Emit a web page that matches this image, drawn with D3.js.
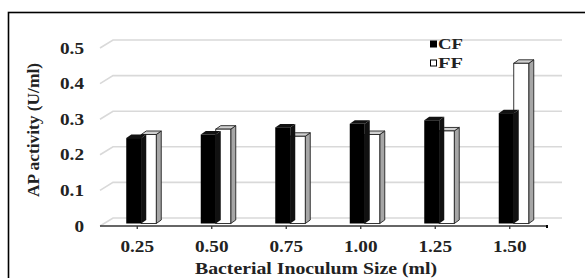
<!DOCTYPE html>
<html><head><meta charset="utf-8">
<script src="https://cdn.jsdelivr.net/npm/d3@7"></script>
<style>html,body{margin:0;padding:0;background:#fff;}svg{display:block;}</style>
</head><body>
<script>
const categories = ["0.25","0.50","0.75","1.00","1.25","1.50"];
const cfValues = [0.24, 0.25, 0.27, 0.28, 0.29, 0.31];
const ffValues = [0.25, 0.265, 0.245, 0.25, 0.26, 0.45];
const yTicks = [0, 0.1, 0.2, 0.3, 0.4, 0.5];
const yTickLabels = ["0","0.1","0.2","0.3","0.4","0.5"];
const seriesNames = ["CF","FF"];

const W = 585, H = 278;
const svg = d3.select("body").append("svg").attr("width", W).attr("height", H);
const font = "'Liberation Serif','Times New Roman',Times,serif";

// frame
svg.append("rect").attr("x", 8.5).attr("y", 12.5).attr("width", 620).attr("height", 300)
  .attr("fill", "none").attr("stroke", "#000").attr("stroke-width", 1.6);

const x = d3.scaleBand().domain(categories).range([100, 547]);
const y = d3.scaleLinear().domain([0, 0.5]).range([226, 48]);
const wallDx = 13, wallDy = -8;      // depth of floor / back wall
const barDx = 4, barDy = -2.5;       // bar front plane
const depDx = 5, depDy = -3.5;       // bar depth
const bw = 15;

// gridlines (back wall with left diagonal)
yTicks.forEach(v => {
  const yf = y(v);
  svg.append("polyline")
    .attr("points", [[100, yf], [100 + wallDx, yf + wallDy], [562, yf + wallDy]].map(p => p.join(",")).join(" "))
    .attr("fill", "none").attr("stroke", "#d9d9d9").attr("stroke-width", 1.6);
});

// front axis
svg.append("line").attr("x1", 100).attr("x2", 547).attr("y1", y(0)).attr("y2", y(0))
  .attr("stroke", "#333").attr("stroke-width", 1.3);
categories.forEach(c => {
  const cx = x(c) + x.bandwidth() / 2;
  svg.append("line").attr("x1", cx).attr("x2", cx).attr("y1", y(0)).attr("y2", y(0) + 3)
    .attr("stroke", "#333").attr("stroke-width", 1.3);
});
svg.append("line").attr("x1", 547).attr("x2", 547).attr("y1", y(0) - 1).attr("y2", y(0) + 2)
  .attr("stroke", "#000").attr("stroke-width", 2);

// bars
function bar3d(x0, v, front, top, side, stroke) {
  const xl = x0 + barDx, xr = xl + bw, yb = y(0) + barDy, yt = y(v) + barDy;
  const g = svg.append("g");
  const sw = stroke ? 0.9 : 0;
  g.append("polygon").attr("points", [[xr, yb], [xr + depDx, yb + depDy], [xr + depDx, yt + depDy], [xr, yt]].map(p => p.join(",")).join(" "))
    .attr("fill", side).attr("stroke", stroke || "none").attr("stroke-width", sw);
  g.append("polygon").attr("points", [[xl, yt], [xl + depDx, yt + depDy], [xr + depDx, yt + depDy], [xr, yt]].map(p => p.join(",")).join(" "))
    .attr("fill", top).attr("stroke", stroke || "none").attr("stroke-width", sw);
  g.append("rect").attr("x", xl).attr("y", yt).attr("width", bw).attr("height", yb - yt)
    .attr("fill", front).attr("stroke", stroke || "none").attr("stroke-width", sw);
}
categories.forEach((c, i) => {
  const cx = x(c) + x.bandwidth() / 2;
  bar3d(cx, ffValues[i], "#fff", "#d0d0d0", "#a6a6a6", "#222");
  bar3d(cx - bw, cfValues[i], "#000", "#111", "#111", null);
});

function stretchedText(tx, ty, str, size, sx, anchor) {
  return svg.append("text").attr("transform", `translate(${tx},${ty}) scale(${sx},1)`)
    .attr("text-anchor", anchor).attr("font-family", font).attr("font-weight", "bold")
    .attr("font-size", size).attr("fill", "#222").text(str);
}
yTicks.forEach((v, i) => {
  stretchedText(84, y(v) + 5.5, yTickLabels[i], 16, 1.2, "end");
});
categories.forEach(c => {
  stretchedText(x(c) + x.bandwidth() / 2, 252, c, 16, 1.2, "middle");
});

// axis titles
svg.append("text").attr("x", 316).attr("y", 274).attr("text-anchor", "middle")
  .attr("font-family", font).attr("font-weight", "bold").attr("font-size", 16).attr("fill", "#222")
  .attr("textLength", 242).attr("lengthAdjust", "spacingAndGlyphs")
  .text("Bacterial Inoculum  Size (ml)");
svg.append("text").attr("transform", "translate(39,130) rotate(-90)").attr("text-anchor", "middle")
  .attr("font-family", font).attr("font-weight", "bold").attr("font-size", 16).attr("fill", "#222")
  .attr("textLength", 134).attr("lengthAdjust", "spacingAndGlyphs")
  .text("AP activity (U/ml)");

// legend
const legendY = [44, 63];
seriesNames.forEach((s, i) => {
  svg.append("rect").attr("x", 430.5).attr("y", legendY[i] - 3).attr("width", 6).attr("height", 6)
    .attr("fill", i === 0 ? "#000" : "#fff").attr("stroke", "#000").attr("stroke-width", 1);
  svg.append("text").attr("x", 438).attr("y", legendY[i] + 5)
    .attr("font-family", font).attr("font-weight", "bold").attr("font-size", 14).attr("fill", "#222")
    .attr("textLength", 25).attr("lengthAdjust", "spacingAndGlyphs").text(s);
});
</script>
</body></html>
